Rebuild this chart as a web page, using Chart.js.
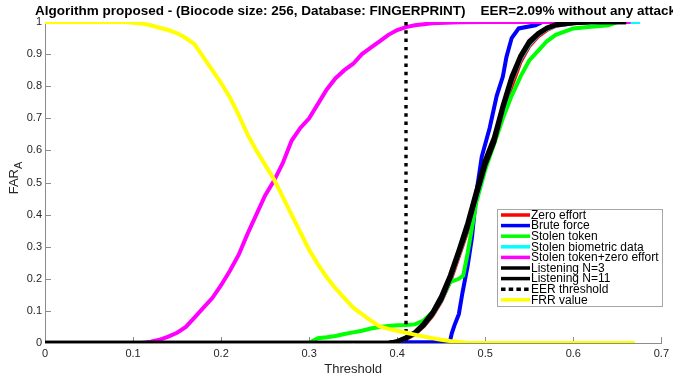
<!DOCTYPE html>
<html>
<head>
<meta charset="utf-8">
<script src="https://cdn.jsdelivr.net/npm/chart.js@4/dist/chart.umd.min.js"></script>
<style>
  html, body { margin: 0; padding: 0; background: #fff; }
  #wrap { width: 673px; height: 379px; }
</style>
</head>
<body>
<div id="wrap"><canvas id="c" width="673" height="379"></canvas></div>
<script>
// Threshold / rate samples for each attack scenario
const zeroEffortX   = [0, 0.39, 0.40, 0.41, 0.42, 0.43, 0.44, 0.45, 0.46, 0.47, 0.48, 0.49, 0.50, 0.51, 0.52, 0.53, 0.54, 0.55, 0.56, 0.57, 0.58, 0.60, 0.62, 0.66];
const zeroEffortY   = [0, 0, 0.003, 0.012, 0.028, 0.052, 0.085, 0.13, 0.19, 0.27, 0.35, 0.45, 0.55, 0.625, 0.715, 0.80, 0.875, 0.925, 0.955, 0.975, 0.988, 0.996, 1, 1];

const bruteForceX   = [0, 0.39, 0.40, 0.44, 0.445, 0.46, 0.462, 0.465, 0.47, 0.474, 0.48, 0.485, 0.49, 0.496, 0.505, 0.513, 0.52, 0.524, 0.53, 0.538, 0.557, 0.565, 0.66];
const bruteForceY   = [0, 0, 0.002, 0.003, 0.005, 0.006, 0.03, 0.055, 0.09, 0.155, 0.24, 0.33, 0.47, 0.58, 0.67, 0.77, 0.83, 0.89, 0.95, 0.98, 0.99, 1, 1];

const stolenTokenX  = [0, 0.30, 0.305, 0.31, 0.32, 0.33, 0.34, 0.35, 0.36, 0.37, 0.38, 0.39, 0.40, 0.41, 0.42, 0.43, 0.44, 0.45, 0.46, 0.47, 0.475, 0.48, 0.49, 0.50, 0.51, 0.52, 0.53, 0.54, 0.55, 0.56, 0.57, 0.58, 0.60, 0.62, 0.64, 0.65, 0.66];
const stolenTokenY  = [0, 0, 0.008, 0.015, 0.018, 0.022, 0.028, 0.033, 0.038, 0.045, 0.05, 0.053, 0.055, 0.056, 0.058, 0.07, 0.095, 0.135, 0.19, 0.2, 0.21, 0.28, 0.44, 0.54, 0.62, 0.70, 0.77, 0.83, 0.88, 0.91, 0.94, 0.96, 0.98, 0.985, 0.99, 1, 1];

const stolenBioX    = [0, 0.39, 0.40, 0.41, 0.42, 0.43, 0.44, 0.45, 0.46, 0.47, 0.48, 0.49, 0.50, 0.51, 0.52, 0.53, 0.54, 0.55, 0.56, 0.57, 0.58, 0.60, 0.62, 0.66, 0.676];
const stolenBioY    = [0, 0, 0.004, 0.014, 0.029, 0.054, 0.088, 0.133, 0.197, 0.277, 0.357, 0.455, 0.552, 0.63, 0.725, 0.815, 0.885, 0.93, 0.96, 0.978, 0.989, 0.996, 0.999, 1, 1];

const tokenZeroX    = [0, 0.11, 0.12, 0.13, 0.14, 0.15, 0.16, 0.17, 0.18, 0.19, 0.20, 0.21, 0.22, 0.23, 0.24, 0.25, 0.26, 0.27, 0.28, 0.29, 0.30, 0.31, 0.32, 0.33, 0.34, 0.35, 0.36, 0.37, 0.38, 0.39, 0.40, 0.41, 0.42, 0.44, 0.47, 0.50, 0.665];
const tokenZeroY    = [0, 0, 0.004, 0.01, 0.02, 0.032, 0.05, 0.08, 0.11, 0.14, 0.18, 0.225, 0.275, 0.34, 0.40, 0.46, 0.505, 0.56, 0.63, 0.67, 0.70, 0.745, 0.79, 0.825, 0.85, 0.87, 0.90, 0.92, 0.94, 0.96, 0.975, 0.984, 0.99, 0.996, 0.999, 1, 1];

const listening3X   = [0, 0.39, 0.40, 0.41, 0.42, 0.43, 0.44, 0.45, 0.46, 0.47, 0.48, 0.49, 0.50, 0.51, 0.52, 0.53, 0.54, 0.55, 0.56, 0.57, 0.58, 0.60, 0.62, 0.66];
const listening3Y   = [0, 0, 0.004, 0.015, 0.03, 0.055, 0.09, 0.135, 0.2, 0.28, 0.36, 0.46, 0.555, 0.625, 0.73, 0.82, 0.89, 0.935, 0.962, 0.98, 0.99, 0.997, 1, 1];

const listening11X  = [0, 0.39, 0.40, 0.41, 0.42, 0.43, 0.44, 0.45, 0.46, 0.47, 0.48, 0.49, 0.50, 0.51, 0.52, 0.53, 0.54, 0.55, 0.56, 0.57, 0.58, 0.60, 0.62, 0.66];
const listening11Y  = [0, 0, 0.005, 0.017, 0.033, 0.06, 0.095, 0.145, 0.21, 0.29, 0.375, 0.475, 0.57, 0.64, 0.74, 0.83, 0.895, 0.94, 0.965, 0.982, 0.992, 0.998, 1, 1];

const eerThresholdX = [0.41, 0.41];
const eerThresholdY = [1, 0];

const frrX          = [0, 0.09, 0.10, 0.11, 0.12, 0.13, 0.14, 0.15, 0.16, 0.17, 0.18, 0.19, 0.20, 0.21, 0.22, 0.23, 0.24, 0.25, 0.26, 0.27, 0.28, 0.29, 0.30, 0.31, 0.32, 0.33, 0.34, 0.35, 0.36, 0.37, 0.38, 0.39, 0.40, 0.41, 0.42, 0.43, 0.44, 0.45, 0.46, 0.47, 0.48, 0.50, 0.67];
const frrY          = [1, 1, 0.998, 0.995, 0.99, 0.982, 0.975, 0.965, 0.95, 0.93, 0.89, 0.85, 0.81, 0.765, 0.71, 0.65, 0.60, 0.555, 0.51, 0.455, 0.40, 0.345, 0.29, 0.245, 0.205, 0.17, 0.14, 0.11, 0.09, 0.07, 0.052, 0.044, 0.038, 0.032, 0.026, 0.02, 0.015, 0.01, 0.006, 0.003, 0.001, 0, 0];

const seriesLabels = ['Zero effort', 'Brute force', 'Stolen token', 'Stolen biometric data',
  'Stolen token+zero effort', 'Listening N=3', 'Listening N=11', 'EER threshold', 'FRR value'];
const xTickValues = [0, 0.1, 0.2, 0.3, 0.4, 0.5, 0.6, 0.7];
const yTickValues = [0, 0.1, 0.2, 0.3, 0.4, 0.5, 0.6, 0.7, 0.8, 0.9, 1];
const titleText  = 'Algorithm proposed - (Biocode size: 256, Database: FINGERPRINT)    EER=2.09% without any attack';
const xAxisTitle = 'Threshold';
const yAxisTitle = 'FAR';
const yAxisSub   = 'A';

const FONT = '"Liberation Sans", Arial, Helvetica, sans-serif';

const pts = (xs, ys) => xs.map((v, i) => ({ x: v, y: ys[i] }));

function series(i, xs, ys, color, width, extra) {
  return Object.assign({
    label: seriesLabels[i],
    data: pts(xs, ys),
    borderColor: color,
    backgroundColor: color,
    borderWidth: width,
    pointRadius: 0,
    tension: 0,
    fill: false,
    // later series sit on top
    order: 20 - i
  }, extra || {});
}

const datasets = [
  series(0, zeroEffortX, zeroEffortY, '#ff0000', 4),
  series(1, bruteForceX, bruteForceY, '#0000ff', 4),
  series(2, stolenTokenX, stolenTokenY, '#00ff00', 4),
  series(3, stolenBioX, stolenBioY, '#00ffff', 4),
  series(4, tokenZeroX, tokenZeroY, '#ff00ff', 4),
  series(5, listening3X, listening3Y, '#000000', 4.5),
  series(6, listening11X, listening11Y, '#000000', 4.5),
  series(7, eerThresholdX, eerThresholdY, '#000000', 3.4, { borderDash: [3.4, 4.9], borderCapStyle: 'butt' }),
  series(8, frrX, frrY, '#ffff00', 4)
];

const decorations = {
  id: 'decorations',
  beforeDatasetsDraw(chart) {
    // inward tick marks
    const { ctx, chartArea: a, scales: { x, y } } = chart;
    ctx.save();
    ctx.strokeStyle = '#8c8c8c';
    ctx.lineWidth = 1;
    ctx.beginPath();
    xTickValues.slice(1).forEach(v => {
      const px = Math.round(x.getPixelForValue(v)) + 0.5;
      ctx.moveTo(px, a.bottom); ctx.lineTo(px, a.bottom - 6);
    });
    yTickValues.slice(1).forEach(v => {
      const py = Math.round(y.getPixelForValue(v)) + 0.5;
      ctx.moveTo(a.left, py); ctx.lineTo(a.left + 6, py);
    });
    ctx.stroke();
    ctx.restore();
  },
  afterDraw(chart) {
    const { ctx, chartArea: a } = chart;
    ctx.save();

    // title
    ctx.fillStyle = '#000';
    ctx.font = 'bold 13.5px ' + FONT;
    ctx.textBaseline = 'alphabetic';
    ctx.textAlign = 'left';
    ctx.fillText(titleText, 35, 15);

    // x axis title
    ctx.fillStyle = '#262626';
    ctx.font = '13px ' + FONT;
    ctx.textAlign = 'center';
    ctx.textBaseline = 'middle';
    ctx.fillText(xAxisTitle, (a.left + a.right) / 2, 369);

    // y axis title with subscript
    ctx.save();
    ctx.translate(14, 178);
    ctx.rotate(-Math.PI / 2);
    ctx.font = '13px ' + FONT;
    const w1 = ctx.measureText(yAxisTitle).width;
    ctx.font = '11px ' + FONT;
    const w2 = ctx.measureText(yAxisSub).width;
    const start = -(w1 + w2) / 2;
    ctx.textAlign = 'left';
    ctx.textBaseline = 'alphabetic';
    ctx.font = '13px ' + FONT;
    ctx.fillText(yAxisTitle, start, 4);
    ctx.font = '11px ' + FONT;
    ctx.fillText(yAxisSub, start + w1, 8);
    ctx.restore();

    // legend box
    const lx = 497, ly = 209, lw = 165, lh = 97, rowH = 10.6;
    ctx.fillStyle = '#fff';
    ctx.fillRect(lx, ly, lw, lh);
    ctx.strokeStyle = '#a6a6a6';
    ctx.lineWidth = 1;
    ctx.strokeRect(lx + 0.5, ly + 0.5, lw, lh);
    ctx.font = '12px ' + FONT;
    ctx.textAlign = 'left';
    ctx.textBaseline = 'middle';
    chart.data.datasets.forEach((ds, i) => {
      const cy = ly + 6 + rowH * i;
      ctx.save();
      ctx.strokeStyle = ds.borderColor;
      ctx.lineWidth = 3.5;
      ctx.lineCap = 'butt';
      if (ds.borderDash) ctx.setLineDash([4.5, 3.2]);
      ctx.beginPath();
      ctx.moveTo(lx + 4, cy); ctx.lineTo(lx + 33, cy);
      ctx.stroke();
      ctx.restore();
      ctx.fillStyle = '#000';
      ctx.fillText(ds.label, lx + 34, cy + 0.5);
    });
    ctx.restore();
  }
};

const tickFmt = v => String(Math.round(v * 10) / 10);

new Chart(document.getElementById('c'), {
  type: 'line',
  data: { datasets },
  options: {
    responsive: false,
    animation: false,
    devicePixelRatio: 1,
    events: [],
    layout: { padding: { top: 22, right: 11, left: 0, bottom: 0 } },
    plugins: { legend: { display: false }, tooltip: { enabled: false }, title: { display: false } },
    scales: {
      x: {
        type: 'linear', min: 0, max: 0.7,
        afterBuildTicks(s) { s.ticks = xTickValues.map(v => ({ value: v })); },
        afterFit(s) { s.height = 36; },
        grid: { display: true, drawOnChartArea: false, drawTicks: false },
        border: { display: true, color: '#8c8c8c', width: 1 },
        ticks: { callback: tickFmt, color: '#262626', font: { family: FONT, size: 11 }, padding: 4, maxRotation: 0, autoSkip: false }
      },
      y: {
        type: 'linear', min: 0, max: 1,
        afterBuildTicks(s) { s.ticks = yTickValues.map(v => ({ value: v })); },
        afterFit(s) { s.width = 45; },
        grid: { display: true, drawOnChartArea: false, drawTicks: false },
        border: { display: true, color: '#8c8c8c', width: 1 },
        ticks: { callback: tickFmt, color: '#262626', font: { family: FONT, size: 11 }, padding: 3, autoSkip: false }
      }
    }
  },
  plugins: [decorations]
});
</script>
</body>
</html>
